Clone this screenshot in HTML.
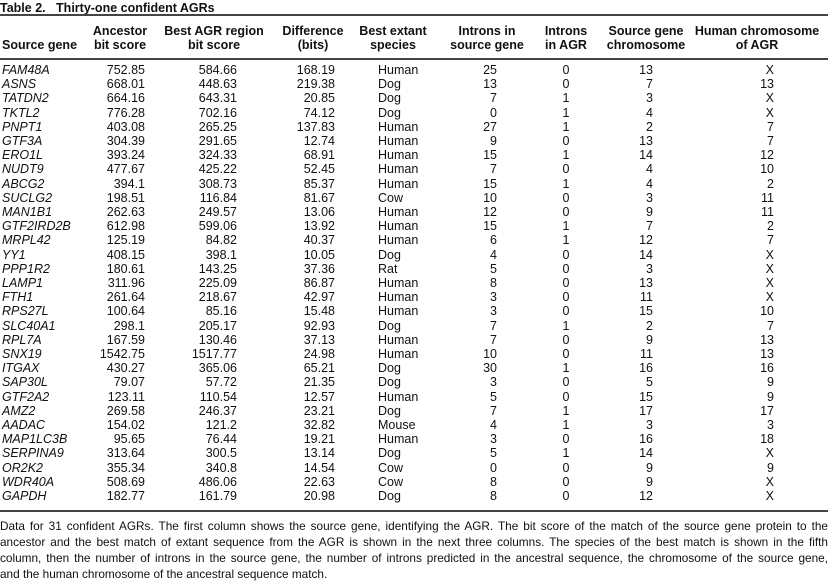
<!DOCTYPE html>
<html><head><meta charset="utf-8"><style>
html,body{margin:0;padding:0;background:#fff;}
body{width:828px;height:580px;position:relative;overflow:hidden;font-family:"Liberation Sans",sans-serif;color:#111;font-size:12.5px;}
.a{position:absolute;white-space:nowrap;line-height:14px;}
.rule{position:absolute;left:0;width:828px;background:#444;}
.h{position:absolute;text-align:center;line-height:14px;font-weight:bold;font-size:12.5px;white-space:nowrap;}
.r{position:absolute;left:0;width:828px;height:14px;}
.r span{position:absolute;top:0;line-height:14px;white-space:nowrap;}
.g{left:2px;font-style:italic;}
.c1{right:683px}.c2{right:591px}.c3{right:493px}.c4{left:378px}.c5{right:331px}
.c6{left:546px;width:40px;text-align:center}.c7{right:175px}.c8{right:54px}
.fn{position:absolute;left:0;width:828px;font-size:11.8px;line-height:16px;text-align:justify;text-align-last:justify;white-space:nowrap;}
</style></head><body>
<div class="a" style="left:0;top:1px;font-weight:bold;font-size:12.5px">Table 2.&nbsp;&nbsp;&nbsp;<span style="font-weight:bold">Thirty-one confident AGRs</span></div>
<div class="rule" style="top:14px;height:2px"></div>
<div class="h" style="left:2px;top:38px;text-align:left">Source gene</div>
<div class="h" style="left:80px;width:80px;top:24px">Ancestor<br>bit score</div>
<div class="h" style="left:164px;width:100px;top:24px">Best AGR region<br>bit score</div>
<div class="h" style="left:273px;width:80px;top:24px">Difference<br>(bits)</div>
<div class="h" style="left:353px;width:80px;top:24px">Best extant<br>species</div>
<div class="h" style="left:442px;width:90px;top:24px">Introns in<br>source gene</div>
<div class="h" style="left:531px;width:70px;top:24px">Introns<br>in AGR</div>
<div class="h" style="left:601px;width:90px;top:24px">Source gene<br>chromosome</div>
<div class="h" style="left:687px;width:140px;top:24px">Human chromosome<br>of AGR</div>
<div class="rule" style="top:58px;height:2px"></div>
<div class="rule" style="top:510px;height:2px"></div>
<div class="fn" style="top:518px">Data for 31 confident AGRs. The first column shows the source gene, identifying the AGR. The bit score of the match of the source gene protein to the</div>
<div class="fn" style="top:534px">ancestor and the best match of extant sequence from the AGR is shown in the next three columns. The species of the best match is shown in the fifth</div>
<div class="fn" style="top:550px">column, then the number of introns in the source gene, the number of introns predicted in the ancestral sequence, the chromosome of the source gene,</div>
<div class="fn" style="top:566px;text-align-last:left">and the human chromosome of the ancestral sequence match.</div>

<div class="r" style="top:63px"><span class="g">FAM48A</span><span class="c1">752.85</span><span class="c2">584.66</span><span class="c3">168.19</span><span class="c4">Human</span><span class="c5">25</span><span class="c6">0</span><span class="c7">13</span><span class="c8">X</span></div>
<div class="r" style="top:77.2px"><span class="g">ASNS</span><span class="c1">668.01</span><span class="c2">448.63</span><span class="c3">219.38</span><span class="c4">Dog</span><span class="c5">13</span><span class="c6">0</span><span class="c7">7</span><span class="c8">13</span></div>
<div class="r" style="top:91.4px"><span class="g">TATDN2</span><span class="c1">664.16</span><span class="c2">643.31</span><span class="c3">20.85</span><span class="c4">Dog</span><span class="c5">7</span><span class="c6">1</span><span class="c7">3</span><span class="c8">X</span></div>
<div class="r" style="top:105.6px"><span class="g">TKTL2</span><span class="c1">776.28</span><span class="c2">702.16</span><span class="c3">74.12</span><span class="c4">Dog</span><span class="c5">0</span><span class="c6">1</span><span class="c7">4</span><span class="c8">X</span></div>
<div class="r" style="top:119.8px"><span class="g">PNPT1</span><span class="c1">403.08</span><span class="c2">265.25</span><span class="c3">137.83</span><span class="c4">Human</span><span class="c5">27</span><span class="c6">1</span><span class="c7">2</span><span class="c8">7</span></div>
<div class="r" style="top:134px"><span class="g">GTF3A</span><span class="c1">304.39</span><span class="c2">291.65</span><span class="c3">12.74</span><span class="c4">Human</span><span class="c5">9</span><span class="c6">0</span><span class="c7">13</span><span class="c8">7</span></div>
<div class="r" style="top:148.2px"><span class="g">ERO1L</span><span class="c1">393.24</span><span class="c2">324.33</span><span class="c3">68.91</span><span class="c4">Human</span><span class="c5">15</span><span class="c6">1</span><span class="c7">14</span><span class="c8">12</span></div>
<div class="r" style="top:162.4px"><span class="g">NUDT9</span><span class="c1">477.67</span><span class="c2">425.22</span><span class="c3">52.45</span><span class="c4">Human</span><span class="c5">7</span><span class="c6">0</span><span class="c7">4</span><span class="c8">10</span></div>
<div class="r" style="top:176.6px"><span class="g">ABCG2</span><span class="c1">394.1</span><span class="c2">308.73</span><span class="c3">85.37</span><span class="c4">Human</span><span class="c5">15</span><span class="c6">1</span><span class="c7">4</span><span class="c8">2</span></div>
<div class="r" style="top:190.8px"><span class="g">SUCLG2</span><span class="c1">198.51</span><span class="c2">116.84</span><span class="c3">81.67</span><span class="c4">Cow</span><span class="c5">10</span><span class="c6">0</span><span class="c7">3</span><span class="c8">11</span></div>
<div class="r" style="top:205px"><span class="g">MAN1B1</span><span class="c1">262.63</span><span class="c2">249.57</span><span class="c3">13.06</span><span class="c4">Human</span><span class="c5">12</span><span class="c6">0</span><span class="c7">9</span><span class="c8">11</span></div>
<div class="r" style="top:219.2px"><span class="g">GTF2IRD2B</span><span class="c1">612.98</span><span class="c2">599.06</span><span class="c3">13.92</span><span class="c4">Human</span><span class="c5">15</span><span class="c6">1</span><span class="c7">7</span><span class="c8">2</span></div>
<div class="r" style="top:233.4px"><span class="g">MRPL42</span><span class="c1">125.19</span><span class="c2">84.82</span><span class="c3">40.37</span><span class="c4">Human</span><span class="c5">6</span><span class="c6">1</span><span class="c7">12</span><span class="c8">7</span></div>
<div class="r" style="top:247.6px"><span class="g">YY1</span><span class="c1">408.15</span><span class="c2">398.1</span><span class="c3">10.05</span><span class="c4">Dog</span><span class="c5">4</span><span class="c6">0</span><span class="c7">14</span><span class="c8">X</span></div>
<div class="r" style="top:261.8px"><span class="g">PPP1R2</span><span class="c1">180.61</span><span class="c2">143.25</span><span class="c3">37.36</span><span class="c4">Rat</span><span class="c5">5</span><span class="c6">0</span><span class="c7">3</span><span class="c8">X</span></div>
<div class="r" style="top:276px"><span class="g">LAMP1</span><span class="c1">311.96</span><span class="c2">225.09</span><span class="c3">86.87</span><span class="c4">Human</span><span class="c5">8</span><span class="c6">0</span><span class="c7">13</span><span class="c8">X</span></div>
<div class="r" style="top:290.2px"><span class="g">FTH1</span><span class="c1">261.64</span><span class="c2">218.67</span><span class="c3">42.97</span><span class="c4">Human</span><span class="c5">3</span><span class="c6">0</span><span class="c7">11</span><span class="c8">X</span></div>
<div class="r" style="top:304.4px"><span class="g">RPS27L</span><span class="c1">100.64</span><span class="c2">85.16</span><span class="c3">15.48</span><span class="c4">Human</span><span class="c5">3</span><span class="c6">0</span><span class="c7">15</span><span class="c8">10</span></div>
<div class="r" style="top:318.6px"><span class="g">SLC40A1</span><span class="c1">298.1</span><span class="c2">205.17</span><span class="c3">92.93</span><span class="c4">Dog</span><span class="c5">7</span><span class="c6">1</span><span class="c7">2</span><span class="c8">7</span></div>
<div class="r" style="top:332.8px"><span class="g">RPL7A</span><span class="c1">167.59</span><span class="c2">130.46</span><span class="c3">37.13</span><span class="c4">Human</span><span class="c5">7</span><span class="c6">0</span><span class="c7">9</span><span class="c8">13</span></div>
<div class="r" style="top:347px"><span class="g">SNX19</span><span class="c1">1542.75</span><span class="c2">1517.77</span><span class="c3">24.98</span><span class="c4">Human</span><span class="c5">10</span><span class="c6">0</span><span class="c7">11</span><span class="c8">13</span></div>
<div class="r" style="top:361.2px"><span class="g">ITGAX</span><span class="c1">430.27</span><span class="c2">365.06</span><span class="c3">65.21</span><span class="c4">Dog</span><span class="c5">30</span><span class="c6">1</span><span class="c7">16</span><span class="c8">16</span></div>
<div class="r" style="top:375.4px"><span class="g">SAP30L</span><span class="c1">79.07</span><span class="c2">57.72</span><span class="c3">21.35</span><span class="c4">Dog</span><span class="c5">3</span><span class="c6">0</span><span class="c7">5</span><span class="c8">9</span></div>
<div class="r" style="top:389.6px"><span class="g">GTF2A2</span><span class="c1">123.11</span><span class="c2">110.54</span><span class="c3">12.57</span><span class="c4">Human</span><span class="c5">5</span><span class="c6">0</span><span class="c7">15</span><span class="c8">9</span></div>
<div class="r" style="top:403.8px"><span class="g">AMZ2</span><span class="c1">269.58</span><span class="c2">246.37</span><span class="c3">23.21</span><span class="c4">Dog</span><span class="c5">7</span><span class="c6">1</span><span class="c7">17</span><span class="c8">17</span></div>
<div class="r" style="top:418px"><span class="g">AADAC</span><span class="c1">154.02</span><span class="c2">121.2</span><span class="c3">32.82</span><span class="c4">Mouse</span><span class="c5">4</span><span class="c6">1</span><span class="c7">3</span><span class="c8">3</span></div>
<div class="r" style="top:432.2px"><span class="g">MAP1LC3B</span><span class="c1">95.65</span><span class="c2">76.44</span><span class="c3">19.21</span><span class="c4">Human</span><span class="c5">3</span><span class="c6">0</span><span class="c7">16</span><span class="c8">18</span></div>
<div class="r" style="top:446.4px"><span class="g">SERPINA9</span><span class="c1">313.64</span><span class="c2">300.5</span><span class="c3">13.14</span><span class="c4">Dog</span><span class="c5">5</span><span class="c6">1</span><span class="c7">14</span><span class="c8">X</span></div>
<div class="r" style="top:460.6px"><span class="g">OR2K2</span><span class="c1">355.34</span><span class="c2">340.8</span><span class="c3">14.54</span><span class="c4">Cow</span><span class="c5">0</span><span class="c6">0</span><span class="c7">9</span><span class="c8">9</span></div>
<div class="r" style="top:474.8px"><span class="g">WDR40A</span><span class="c1">508.69</span><span class="c2">486.06</span><span class="c3">22.63</span><span class="c4">Cow</span><span class="c5">8</span><span class="c6">0</span><span class="c7">9</span><span class="c8">X</span></div>
<div class="r" style="top:489px"><span class="g">GAPDH</span><span class="c1">182.77</span><span class="c2">161.79</span><span class="c3">20.98</span><span class="c4">Dog</span><span class="c5">8</span><span class="c6">0</span><span class="c7">12</span><span class="c8">X</span></div>
</body></html>
